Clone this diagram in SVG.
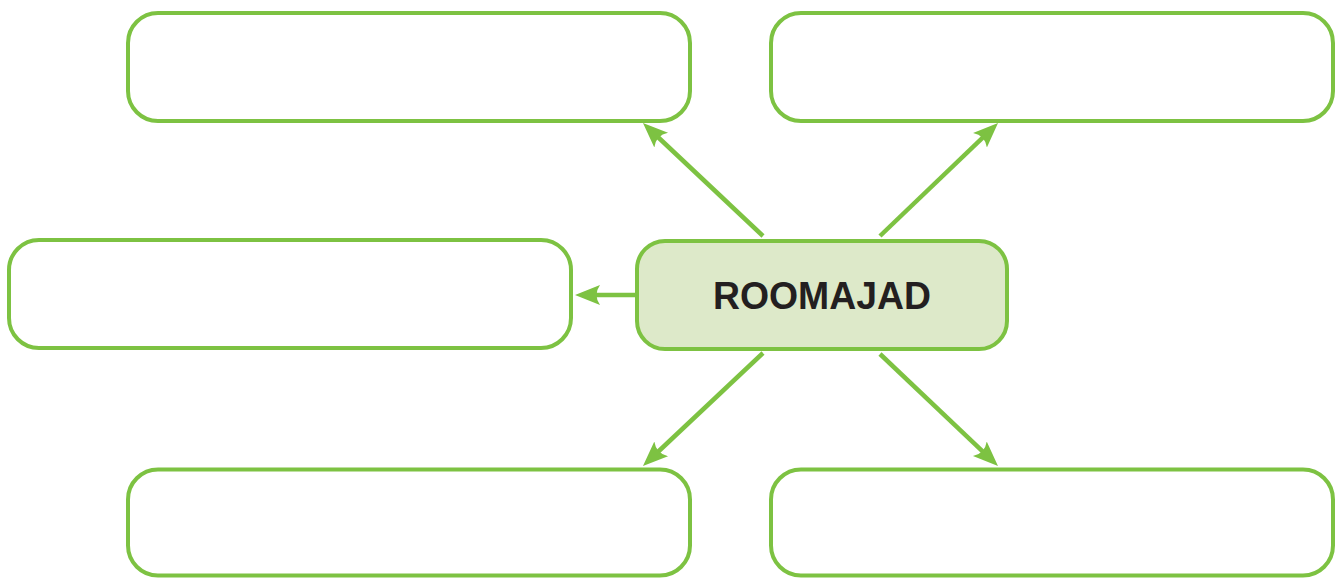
<svg xmlns="http://www.w3.org/2000/svg" width="1339" height="578" viewBox="0 0 1339 578">
  <style>
    .box { fill: #ffffff; stroke: #7dc242; stroke-width: 4; }
    .hub { fill: #dde9c9; stroke: #7dc242; stroke-width: 4; }
    .link { stroke: #7dc242; stroke-width: 4.5; fill: none; marker-end: url(#head); }
    .label { font-family: "Liberation Sans", Arial, sans-serif; font-weight: bold; font-size: 38px; fill: #231f20; }
  </style>
  <defs>
    <marker id="head" markerUnits="userSpaceOnUse" markerWidth="30" markerHeight="24" viewBox="0 -12 30 24" refX="6" refY="0" orient="auto">
      <path d="M0,-10 Q7,0 0,10 L25,0 Z" fill="#7dc242"/>
    </marker>
  </defs>

  <g id="connectors">
    <line class="link" x1="763" y1="236" x2="656.8" y2="136"/>
    <line class="link" x1="880" y1="236" x2="984.3" y2="136.1"/>
    <line class="link" x1="636" y1="295" x2="594" y2="295"/>
    <line class="link" x1="763" y1="353" x2="656.8" y2="453"/>
    <line class="link" x1="880" y1="354" x2="984.2" y2="452.9"/>
  </g>

  <g id="top-left">
    <rect class="box" x="128" y="13" width="562" height="108" rx="30"/>
  </g>
  <g id="top-right">
    <rect class="box" x="771" y="13" width="562" height="108" rx="30"/>
  </g>
  <g id="middle-left">
    <rect class="box" x="9" y="240" width="562" height="108" rx="30"/>
  </g>
  <g id="bottom-left">
    <rect class="box" x="128" y="469.5" width="562" height="106" rx="30"/>
  </g>
  <g id="bottom-right">
    <rect class="box" x="771" y="469.5" width="562" height="106" rx="30"/>
  </g>
  <g id="center">
    <rect class="hub" x="637" y="241" width="370" height="108" rx="28"/>
    <text class="label" x="822" y="309" text-anchor="middle" textLength="218" lengthAdjust="spacingAndGlyphs">ROOMAJAD</text>
  </g>
</svg>
